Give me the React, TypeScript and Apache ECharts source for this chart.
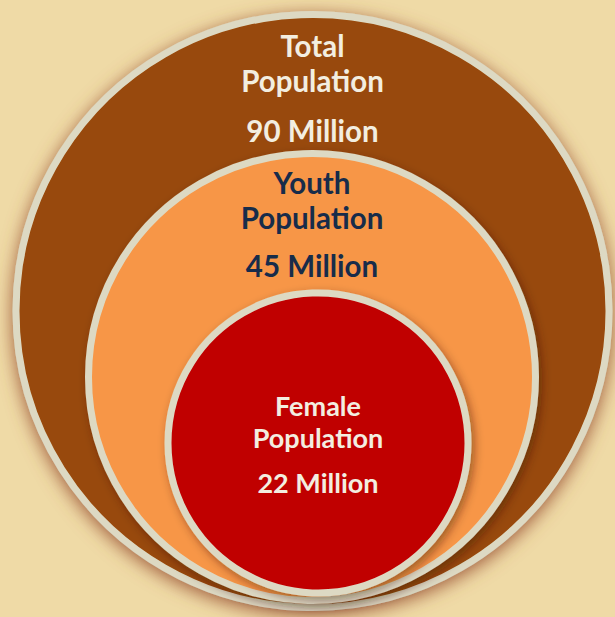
import React, { useEffect, useRef } from "react";
import * as echarts from "echarts";

// ---- data ----
const categories = ["Total Population", "Youth Population", "Female Population"];
const titleLines = [
  ["Total", "Population"],
  ["Youth", "Population"],
  ["Female", "Population"],
];
const values = [90, 45, 22];
const unit = "Million";

// ---- layout (diagram units, 1 unit = 1 px of the 615x617 canvas) ----
const centersX = [312.5, 312, 318];
const centersY = [311, 377, 443];
const radii = [296.5, 223.5, 150];
const titleY = [45, 182, 405];
const lineGap = [35, 35, 32];
const valueY = [130, 265, 482];
const fontSizes = [29.5, 29.5, 27];

// ---- styles ----
const fills = ["#984807", "#F79646", "#C00000"];
const textColors = ["#F3EEE0", "#172C4A", "#F3EEE0"];
const borderColor = "#DDD9C3";
const shadowColors = ["rgba(155,85,55,0.95)", "rgba(60,20,0,0.45)", "rgba(60,20,0,0.45)"];
const shadowBlurs = [18, 10, 10];

export default function App() {
  const ref = useRef<HTMLDivElement>(null);

  useEffect(() => {
    document.body.style.margin = "0";
    if (!ref.current) return;
    const chart = echarts.init(ref.current, undefined, { renderer: "svg" });

    const data = categories.map((name, i) => ({
      name,
      value: [centersX[i], centersY[i], radii[i], values[i]],
    }));

    const option = {
      animation: false,
      backgroundColor: "#EFDAA6",
      grid: { left: 0, right: 0, top: 0, bottom: 0 },
      xAxis: { type: "value", min: 0, max: 615, show: false },
      yAxis: { type: "value", min: 0, max: 617, inverse: true, show: false },
      series: [
        {
          type: "custom",
          coordinateSystem: "cartesian2d",
          data,
          renderItem: (params: any, api: any) => {
            const i = params.dataIndex;
            const c = api.coord([api.value(0), api.value(1)]);
            const r = api.size([api.value(2), api.value(2)])[0];
            const fs = fontSizes[i];
            const font = {
              fontSize: fs,
              fontWeight: "bold",
              fontFamily: "Lato, 'Open Sans', sans-serif",
              fill: textColors[i],
              align: "center",
              verticalAlign: "middle",
            };
            const t0 = api.coord([api.value(0), titleY[i]]);
            const t1 = api.coord([api.value(0), titleY[i] + lineGap[i]]);
            const tv = api.coord([api.value(0), valueY[i]]);
            return {
              type: "group",
              children: [
                {
                  type: "circle",
                  shape: { cx: c[0], cy: c[1], r },
                  style: {
                    fill: fills[i],
                    stroke: borderColor,
                    lineWidth: 7,
                    shadowBlur: shadowBlurs[i],
                    shadowColor: shadowColors[i],
                    shadowOffsetX: i === 0 ? 0 : 3,
                    shadowOffsetY: 4,
                  },
                },
                {
                  type: "text",
                  style: { ...font, text: titleLines[i][0], x: t0[0], y: t0[1] },
                },
                {
                  type: "text",
                  style: { ...font, text: titleLines[i][1], x: t1[0], y: t1[1] },
                },
                {
                  type: "text",
                  style: { ...font, text: `${api.value(3)} ${unit}`, x: tv[0], y: tv[1] },
                },
              ],
            };
          },
        },
      ],
    };

    chart.setOption(option as any);
    return () => chart.dispose();
  }, []);

  return <div ref={ref} style={{ width: 615, height: 617 }} />;
}
